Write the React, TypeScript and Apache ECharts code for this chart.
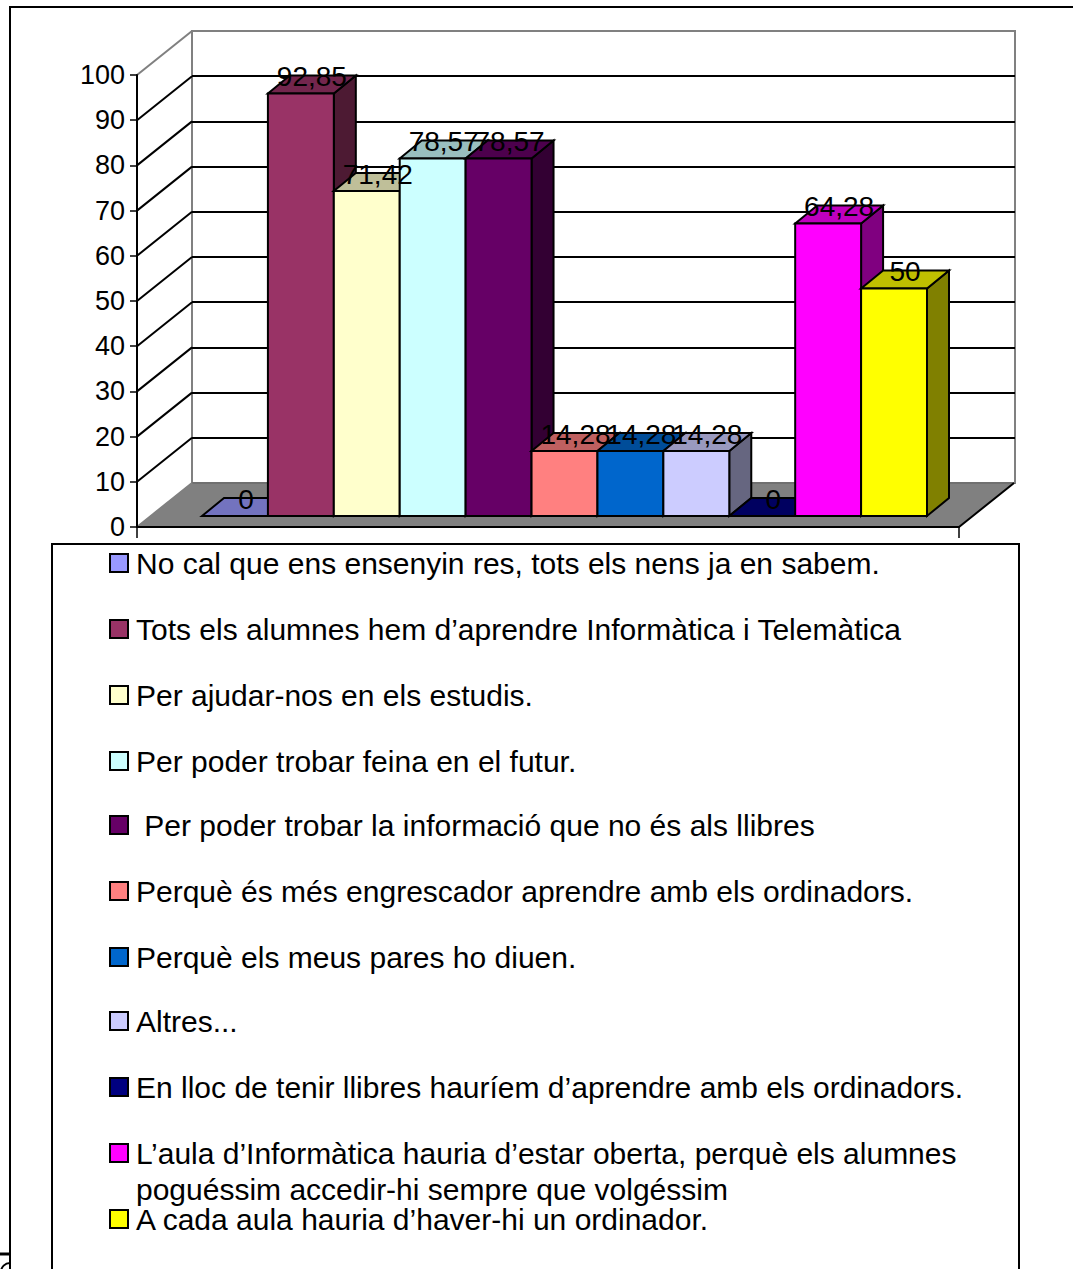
import React, { useEffect, useRef } from "react";
import * as echarts from "echarts";

const names = [
  "No cal que ens ensenyin res, tots els nens ja en sabem.",
  "Tots els alumnes hem d’aprendre Informàtica i Telemàtica",
  "Per ajudar-nos en els estudis.",
  "Per poder trobar feina en el futur.",
  " Per poder trobar la informació que no és als llibres",
  "Perquè és més engrescador aprendre amb els ordinadors.",
  "Perquè els meus pares ho diuen.",
  "Altres...",
  "En lloc de tenir llibres hauríem d’aprendre amb els ordinadors.",
  "L’aula d’Informàtica hauria d’estar oberta, perquè els alumnes\npoguéssim accedir-hi sempre que volgéssim",
  "A cada aula hauria d’haver-hi un ordinador.",
];
const values = [0, 92.85, 71.42, 78.57, 78.57, 14.28, 14.28, 14.28, 0, 64.28, 50];
const labels = ["0", "92,85", "71,42", "78,57", "78,57", "14,28", "14,28", "14,28", "0", "64,28", "50"];
const colors = ["#9999FF", "#993366", "#FFFFCC", "#CCFFFF", "#660066", "#FF8080", "#0066CC", "#CCCCFF", "#000080", "#FF00FF", "#FFFF00"];
const legendCenters = [564, 630, 696, 762, 826, 892, 958, 1022, 1088, 1154, 1220];
const axisTicks = [0, 10, 20, 30, 40, 50, 60, 70, 80, 90, 100];

const FONT = '"Liberation Sans", Arial, sans-serif';
const WALL_DX = 55, WALL_DY = -44;
const BAR_DX = 22, BAR_DY = -18;

function shade(hex: string, k: number) {
  const n = parseInt(hex.slice(1), 16);
  const c = [(n >> 16) & 255, (n >> 8) & 255, n & 255].map((v) => Math.round(v * k));
  return `rgb(${c[0]},${c[1]},${c[2]})`;
}

export default function App() {
  const ref = useRef<HTMLDivElement>(null);
  useEffect(() => {
    const chart = echarts.init(ref.current!, undefined, { renderer: "svg" });
    const edge = { stroke: "#000", lineWidth: 2, lineJoin: "miter" as const };

    const barSeries = names.map((name, i) => ({
      type: "custom",
      name,
      coordinateSystem: "cartesian2d",
      xAxisIndex: 2,
      yAxisIndex: 2,
      z: 5,
      clip: false,
      data: [[i, values[i]]],
      renderItem: (_p: any, api: any) => {
        const idx = api.value(0), v = api.value(1);
        const w = api.size([1, 0])[0];
        const [cx, top] = api.coord([idx, v]);
        const [, base] = api.coord([idx, 0]);
        const l = cx - w / 2, r = cx + w / 2;
        const children: any[] = [
          { type: "polygon", z2: i, shape: { points: [[r, top], [r + BAR_DX, top + BAR_DY], [r + BAR_DX, base + BAR_DY], [r, base]] }, style: { fill: shade(colors[i], 0.5), ...edge } },
          { type: "polygon", z2: i, shape: { points: [[l, top], [l + BAR_DX, top + BAR_DY], [r + BAR_DX, top + BAR_DY], [r, top]] }, style: { fill: shade(colors[i], 0.75), ...edge } },
          { type: "rect", z2: i, shape: { x: l, y: top, width: w, height: base - top }, style: { fill: colors[i], ...edge } },
          { type: "text", z2: 100, style: { text: labels[i], x: cx + BAR_DX / 2, y: top + BAR_DY + 1, align: "center", verticalAlign: "middle", fill: "#000", fontSize: 28, fontFamily: FONT } },
        ];
        return { type: "group", children };
      },
    }));

    const legendGraphics: any[] = [];
    names.forEach((name, i) => {
      const cy = legendCenters[i];
      legendGraphics.push({ type: "rect", shape: { x: 110, y: cy - 10, width: 18, height: 18 }, style: { fill: colors[i], stroke: "#000", lineWidth: 2 } });
      legendGraphics.push({ type: "text", x: 136, y: cy - 19, style: { text: name, fill: "#000", fontSize: 30, fontFamily: FONT, lineHeight: 36, verticalAlign: "top", align: "left" } });
    });

    chart.setOption({
      animation: false,
      backgroundColor: "#fff",
      grid: [
        { left: 137, width: 822, top: 75, height: 452, show: false },
        { left: 192, width: 823, top: 31, height: 452, show: true, borderColor: "#808080", borderWidth: 2, backgroundColor: "#fff" },
        { left: 202, width: 725, top: 61, height: 455, show: false },
      ],
      xAxis: [
        { gridIndex: 0, type: "value", min: 0, max: 1, interval: 1, z: 3,
          axisLine: { show: true, lineStyle: { color: "#000", width: 2 } },
          axisTick: { show: true, length: 11, lineStyle: { color: "#000", width: 1.5 } },
          axisLabel: { show: false }, splitLine: { show: false } },
        { gridIndex: 1, type: "value", min: 0, max: 1, show: false },
        { gridIndex: 2, type: "category", data: names, show: false },
      ],
      yAxis: [
        { gridIndex: 0, type: "value", min: 0, max: 100, interval: 10, z: 3,
          axisLine: { show: true, lineStyle: { color: "#000", width: 2 } },
          axisTick: { show: true, length: 7, lineStyle: { color: "#000", width: 1.5 } },
          axisLabel: { show: true, color: "#000", fontSize: 27, fontFamily: FONT, margin: 12 },
          splitLine: { show: false } },
        { gridIndex: 1, type: "value", min: 0, max: 100, interval: 10,
          axisLine: { show: false }, axisTick: { show: false }, axisLabel: { show: false },
          splitLine: { show: true, showMinLine: false, showMaxLine: false, lineStyle: { color: "#000", width: 2 } } },
        { gridIndex: 2, type: "value", min: 0, max: 100, show: false },
      ],
      series: [
        {
          type: "custom", coordinateSystem: "cartesian2d", xAxisIndex: 0, yAxisIndex: 0, z: 1, clip: false,
          data: [[0, 0]],
          renderItem: (_p: any, api: any) => {
            const a = api.coord([0, 0]), b = api.coord([1, 0]);
            return { type: "polygon", shape: { points: [a, b, [b[0] + WALL_DX, b[1] + WALL_DY], [a[0] + WALL_DX, a[1] + WALL_DY]] },
              style: { fill: "#808080", stroke: "#606060", lineWidth: 1 } };
          },
        },
        {
          type: "custom", coordinateSystem: "cartesian2d", xAxisIndex: 0, yAxisIndex: 0, z: 2, clip: false,
          data: [[1, 0]],
          renderItem: (_p: any, api: any) => {
            const b = api.coord([1, 0]);
            return { type: "line", shape: { x1: b[0], y1: b[1], x2: b[0] + WALL_DX, y2: b[1] + WALL_DY }, style: { stroke: "#000", lineWidth: 2 } };
          },
        },
        {
          type: "custom", coordinateSystem: "cartesian2d", xAxisIndex: 0, yAxisIndex: 0, z: 2, clip: false,
          data: axisTicks.map((t) => [0, t]),
          renderItem: (_p: any, api: any) => {
            const t = api.value(1);
            const p = api.coord([0, t]);
            const outer = t === 0 || t === 100;
            return { type: "line", shape: { x1: p[0], y1: p[1], x2: p[0] + WALL_DX, y2: p[1] + WALL_DY },
              style: { stroke: outer ? "#808080" : "#000", lineWidth: 2 } };
          },
        },
        ...barSeries,
      ],
      graphic: [
        { type: "line", shape: { x1: 9, y1: 7, x2: 1073, y2: 7 }, style: { stroke: "#000", lineWidth: 2 } },
        { type: "line", shape: { x1: 10, y1: 7, x2: 10, y2: 1269 }, style: { stroke: "#000", lineWidth: 2 } },
        { type: "line", shape: { x1: 0, y1: 1254, x2: 10, y2: 1254 }, style: { stroke: "#000", lineWidth: 3 } },
        { type: "arc", shape: { cx: 10, cy: 1272, r: 9, startAngle: Math.PI, endAngle: Math.PI * 1.5 }, style: { stroke: "#000", lineWidth: 2, fill: "none" } },
        { type: "rect", shape: { x: 52, y: 544, width: 967, height: 800 }, style: { fill: "#fff", stroke: "#000", lineWidth: 2 } },
        ...legendGraphics,
      ],
    });
    return () => chart.dispose();
  }, []);
  return <div ref={ref} style={{ position: "fixed", left: 0, top: 0, width: 1073, height: 1269, overflow: "hidden" }} />;
}
